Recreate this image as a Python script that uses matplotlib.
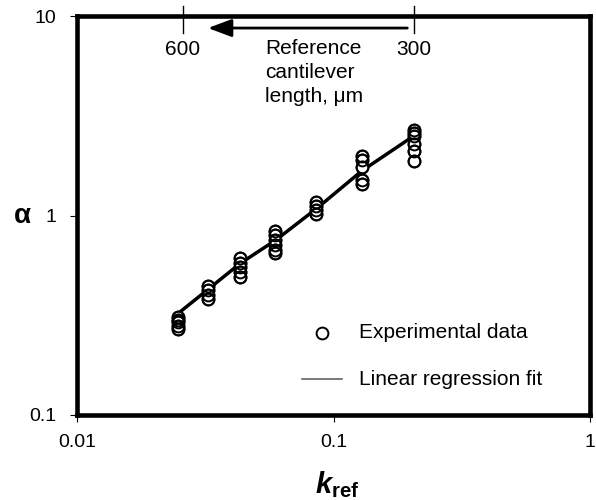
import matplotlib
matplotlib.use("Agg")
import matplotlib.pyplot as plt

plt.rcParams['font.family'] = ['Liberation Sans', 'DejaVu Sans']
plt.rcParams['mathtext.fontset'] = 'custom'
plt.rcParams['mathtext.rm'] = 'Liberation Sans'
plt.rcParams['mathtext.bf'] = 'Liberation Sans:bold'
plt.rcParams['mathtext.it'] = 'Liberation Sans:italic'
plt.rcParams['mathtext.bfit'] = 'Liberation Sans:italic:bold'

# Data
k_groups = [0.0247, 0.0323, 0.0431, 0.0591, 0.0854, 0.129, 0.206]
alpha_groups = [
    [0.31, 0.30, 0.29, 0.28, 0.27],
    [0.44, 0.42, 0.40, 0.38],
    [0.61, 0.58, 0.55, 0.52, 0.49],
    [0.84, 0.80, 0.75, 0.71, 0.67, 0.65],
    [1.17, 1.12, 1.07, 1.02],
    [2.00, 1.90, 1.75, 1.50, 1.44],
    [2.70, 2.60, 2.50, 2.30, 2.12, 1.87],
]
fit_k = [0.0247, 0.0323, 0.0431, 0.0591, 0.0854, 0.129, 0.206]
fit_alpha = [0.322, 0.425, 0.574, 0.749, 1.08, 1.68, 2.52]

top_tick_k = [0.0258, 0.206]
top_tick_labels = ['600', '300']
arrow_from_k, arrow_to_k = 0.1936, 0.0323

fig = plt.figure(figsize=(5.96, 5.0), dpi=100)
ax = fig.add_axes([0.130, 0.171, 0.860, 0.796])

ax.set_xscale('log')
ax.set_yscale('log')
ax.set_xlim(0.01, 1)
ax.set_ylim(0.1, 10)

ax.plot(fit_k, fit_alpha, color='black', lw=2.5, zorder=2)
for k, vals in zip(k_groups, alpha_groups):
    ax.plot([k] * len(vals), vals, 'o', ms=8.5, mfc='white', mec='black',
            mew=1.4, ls='none', zorder=3)
for k, vals in zip(k_groups, alpha_groups):
    ax.plot([k] * len(vals), vals, 'o', ms=8.5, mfc='none', mec='black',
            mew=1.4, ls='none', zorder=4)

for s in ax.spines.values():
    s.set_linewidth(3.3)

ax.set_xticks([0.01, 0.1, 1])
ax.set_xticklabels(['0.01', '0.1', '1'])
ax.set_yticks([0.1, 1, 10])
ax.set_yticklabels(['0.1', '1', '10'])
ax.minorticks_off()
ax.tick_params(axis='both', which='major', direction='out', length=5,
               width=0.8, labelsize=14)
ax.tick_params(axis='x', pad=9)
ax.tick_params(axis='y', pad=10)

fig.text(337 / 596, 1 - 485 / 500, r'$\mathbfit{k}_{\mathbf{ref}}$',
         fontsize=21, ha='center', va='center')
fig.text(22 / 596, 1 - 216 / 500, '\u03b1', fontsize=20, fontweight='bold',
         ha='center', va='center')

# Top axis ticks for reference cantilever length
xt = ax.get_xaxis_transform()
for kt, lab in zip(top_tick_k, top_tick_labels):
    ax.plot([kt, kt], [0.9585, 1.026], color='black', lw=1.0, clip_on=False,
            transform=xt, zorder=5)
    ax.text(kt, 0.918, lab, ha='center', va='center', fontsize=15,
            transform=xt)

ax.annotate('', xy=(arrow_to_k, 0.971), xytext=(arrow_from_k, 0.971),
            xycoords=xt, textcoords=xt,
            arrowprops=dict(arrowstyle='-|>,head_length=0.8,head_width=0.3',
                            color='black', lw=2.0,
                            mutation_scale=18, shrinkA=0, shrinkB=0))
ax.text(0.054, 0.943, 'Reference\ncantilever\nlength, \u03bcm', ha='left',
        va='top', fontsize=15, linespacing=1.32, transform=xt)

# Legend drawn manually
ax.plot([0.477], [0.205], 'o', ms=8.5, mfc='white', mec='black', mew=1.4,
        transform=ax.transAxes)
ax.text(0.550, 0.205, 'Experimental data', ha='left', va='center',
        fontsize=15, transform=ax.transAxes)
ax.plot([0.438, 0.516], [0.089, 0.089], color='#555555', lw=1.1,
        transform=ax.transAxes)
ax.text(0.550, 0.089, 'Linear regression fit', ha='left', va='center',
        fontsize=15, transform=ax.transAxes)

fig.savefig('out.png', dpi=100)
